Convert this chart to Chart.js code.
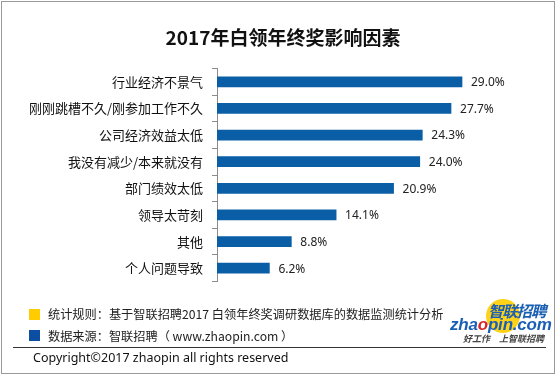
<!DOCTYPE html>
<html><head><meta charset="utf-8">
<script src="https://cdn.jsdelivr.net/npm/chart.js@4.4.1/dist/chart.umd.min.js"></script>
<style>
html,body{margin:0;padding:0;background:#fff;}
#wrap{position:relative;width:559px;height:378px;overflow:hidden;font-family:"Noto Sans CJK SC","Noto Sans",sans-serif;}
#c{position:absolute;left:0;top:0;}
.frame{position:absolute;left:1px;top:1px;width:554px;height:373px;border:1px solid #9a9a9a;box-sizing:border-box;}
.title{position:absolute;left:0;top:24px;width:566px;text-align:center;font-weight:bold;font-size:19px;color:#111;line-height:26px;}
.sq{position:absolute;left:29px;width:11px;height:11px;}
.ft{position:absolute;left:48px;font-size:12.2px;color:#222;line-height:16px;white-space:nowrap;}
.sep{position:absolute;left:13px;top:347px;width:533px;height:1px;background:#333;}
.copy{position:absolute;left:33px;top:349px;font-size:12.5px;color:#111;line-height:18px;font-family:"Noto Sans","Noto Sans CJK SC",sans-serif;white-space:nowrap;}
.logo1{position:absolute;left:488px;top:301px;font-size:15.5px;font-weight:bold;font-style:italic;color:#1a5fb4;line-height:19px;white-space:nowrap;letter-spacing:-1.2px;}
.ball{position:absolute;left:486px;top:299px;width:34px;height:34px;border-radius:50%;background:#ffd21a;}
.logo2{position:absolute;left:450px;top:315px;font-size:17px;font-weight:bold;font-style:italic;color:#1a5fb4;line-height:20px;white-space:nowrap;font-family:"Liberation Sans","Noto Sans",sans-serif;letter-spacing:-0.2px;}
.logo3{position:absolute;left:463px;top:333px;font-size:9px;font-weight:bold;font-style:italic;color:#444;line-height:11px;white-space:nowrap;}
</style></head>
<body>
<div id="wrap">
<canvas id="c" width="559" height="378"></canvas>
<div class="frame"></div>
<div class="title">2017年白领年终奖影响因素</div>
<div class="sq" style="top:309px;background:#ffcc00"></div>
<div class="ft" style="top:306px">统计规则：基于智联招聘2017 白领年终奖调研数据库的数据监测统计分析</div>
<div class="sq" style="top:330px;background:#0b4ea2"></div>
<div class="ft" style="top:328px">数据来源：智联招聘（ www.zhaopin.com ）</div>
<div class="sep"></div>
<div class="copy">Copyright©2017 zhaopin all rights reserved</div>
<div class="ball"></div>
<div class="logo1">智联招聘</div>
<div class="logo2">zha<span style="color:#d8262a">o</span>pin.com</div>
<div class="logo3">好工作　上智联招聘</div>
</div>
<script>
const categories = ["行业经济不景气","刚刚跳槽不久/刚参加工作不久","公司经济效益太低","我没有减少/本来就没有","部门绩效太低","领导太苛刻","其他","个人问题导致"];
const values = [29.0, 27.7, 24.3, 24.0, 20.9, 14.1, 8.8, 6.2];
const xMin = 0, xMax = 35;

const valueLabels = {
  id: 'valueLabels',
  afterDatasetsDraw(chart) {
    const ctx = chart.ctx;
    const meta = chart.getDatasetMeta(0);
    ctx.save();
    ctx.font = '12px "Noto Sans", sans-serif';
    ctx.fillStyle = '#222';
    ctx.textAlign = 'left';
    ctx.textBaseline = 'middle';
    meta.data.forEach((bar, i) => {
      ctx.fillText(values[i].toFixed(1) + '%', bar.x + 9, bar.y + 1);
    });
    ctx.restore();
  }
};

new Chart(document.getElementById('c'), {
  type: 'bar',
  data: {
    labels: categories,
    datasets: [{
      data: values,
      backgroundColor: '#0a5ea6',
      barThickness: 10,
      borderWidth: 0
    }]
  },
  options: {
    indexAxis: 'y',
    responsive: false,
    animation: false,
    devicePixelRatio: 1,
    layout: { padding: { top: 68.5, bottom: 96.5, left: 0, right: 46.3 } },
    plugins: { legend: { display: false }, tooltip: { enabled: false }, title: { display: false } },
    scales: {
      x: { display: false, min: xMin, max: xMax },
      y: {
        afterFit(scale) { scale.width = 217; },
        grid: { display: true, drawOnChartArea: false, drawTicks: true, tickLength: 5, color: '#8c8c8c', offset: true },
        border: { display: true, color: '#8c8c8c', width: 1 },
        ticks: { color: '#111', padding: 9, font: { family: '"Noto Sans CJK SC", sans-serif', size: 13 } }
      }
    }
  },
  plugins: [valueLabels]
});
</script>
</body></html>
